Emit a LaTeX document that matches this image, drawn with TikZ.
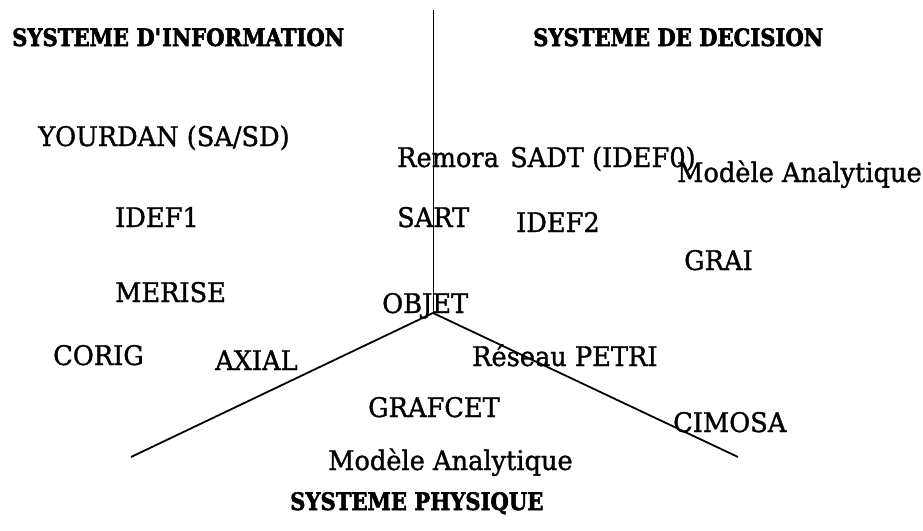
\documentclass[tikz,border=0pt]{standalone}
\usepackage{fontspec}
\setmainfont{DejaVu Serif}
\newfontfamily\textemethode{DejaVu Serif}[FakeStretch=0.95,FakeBold=1.2]
\newfontfamily\textetitre{DejaVu Serif}[FakeStretch=0.88,FakeBold=2.2]
\tikzset{
	methode/.style={font=\textemethode\fontsize{27}{32}\selectfont, inner sep=0pt, anchor=base west},
	titre/.style={font=\textetitre\fontsize{24}{28}\selectfont\bfseries, inner sep=0pt, anchor=base west},
	axe/.style={line width=0.9pt},
	branche/.style={line width=1.8pt}
}
\begin{document}
\begin{tikzpicture}[x=1pt,y=-1pt]
\useasboundingbox (0,0) rectangle (923,530);
% les trois axes
\coordinate (centre) at (433,313);
\coordinate (haut) at (433,10);
\coordinate (gauche) at (131,457);
\coordinate (droite) at (738,457);
\draw[axe] (centre) -- (haut);
\draw[branche] (centre) -- (gauche);
\draw[branche] (centre) -- (droite);
% titres
\node[titre] (info) at (12,46) {SYSTEME D\textquotesingle INFORMATION};
\node[titre] (decision) at (533,46) {SYSTEME DE DECISION};
\node[titre] (physique) at (290,510) {SYSTEME PHYSIQUE};
% methodes
\node[methode] (yourdan) at (38,146) {YOURDAN (SA/SD)};
\node[methode] (idefun) at (115,227) {IDEF1};
\node[methode] (merise) at (115,302) {MERISE};
\node[methode] (corig) at (53,365) {CORIG};
\node[methode] (axial) at (215,370) {AXIAL};
\node[methode] (remora) at (397,167) {Remora};
\node[methode] (sadt) at (510,167) {SADT (IDEF0)};
\node[methode] (modeled) at (677,182) {Modèle Analytique};
\node[methode] (sart) at (397,227) {SART};
\node[methode] (ideftwo) at (516,232) {IDEF2};
\node[methode] (grai) at (684,270) {GRAI};
\node[methode] (objet) at (382,313) {OBJET};
\node[methode] (petri) at (472,366) {Réseau PETRI};
\node[methode] (grafcet) at (368,417) {GRAFCET};
\node[methode] (cimosa) at (673,432) {CIMOSA};
\node[methode] (modelep) at (328,470) {Modèle Analytique};
\end{tikzpicture}
\end{document}
